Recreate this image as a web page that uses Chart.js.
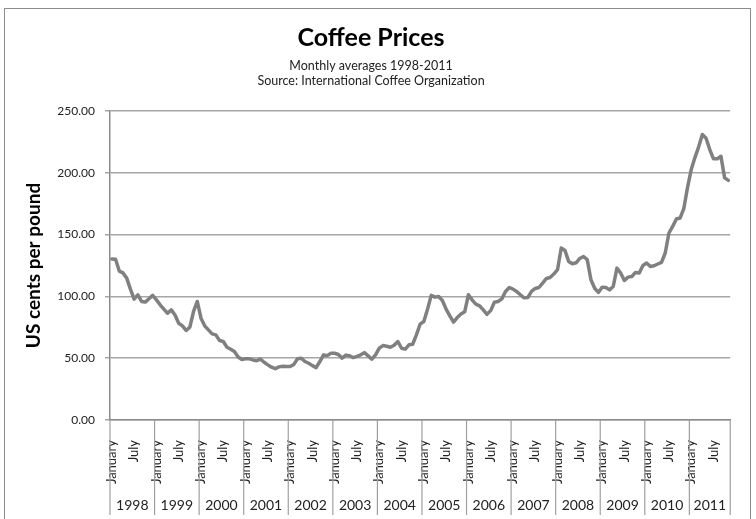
<!DOCTYPE html>
<html>
<head>
<meta charset="utf-8">
<title>Coffee Prices</title>
<script src="https://cdn.jsdelivr.net/npm/chart.js@4.4.1/dist/chart.umd.min.js"></script>
<style>
  html, body { margin: 0; padding: 0; background: #fff; }
  #wrap { width: 756px; height: 519px; }
</style>
</head>
<body>
<div id="wrap"><canvas id="coffee-chart" width="756" height="519"></canvas></div>
<script>
// data (US cents per pound, monthly averages)
const years = [1998, 1999, 2000, 2001, 2002, 2003, 2004, 2005, 2006, 2007, 2008, 2009, 2010, 2011];
const monthNames = ["January", "February", "March", "April", "May", "June",
  "July", "August", "September", "October", "November", "December"];
const shownMonths = ["January", "July"];
const yTicks = [0, 50, 100, 150, 200, 250];

const p1998 = [130.2, 130.0, 120.5, 119.0, 114.8, 105.9, 97.8, 101.3, 95.9, 95.4, 98.1, 100.8];
const p1999 = [97.2, 93.2, 89.7, 86.4, 89.1, 85.0, 78.3, 76.2, 72.4, 75.1, 87.8, 95.9];
const p2000 = [82.4, 76.2, 72.9, 69.7, 68.9, 64.3, 63.5, 58.9, 57.3, 55.4, 51.0, 49.0];
const p2001 = [49.5, 49.5, 48.6, 48.0, 49.2, 46.7, 44.6, 42.7, 41.5, 43.0, 43.5, 43.2];
const p2002 = [43.2, 45.0, 49.5, 50.0, 47.3, 45.9, 44.0, 42.4, 47.3, 52.7, 52.1, 54.0];
const p2003 = [54.0, 53.0, 50.0, 52.5, 52.0, 50.5, 51.5, 52.7, 54.5, 51.9, 49.2, 52.7];
const p2004 = [58.1, 60.2, 59.7, 58.9, 60.5, 63.5, 58.1, 57.3, 60.8, 61.3, 68.9, 77.5];
const p2005 = [79.7, 89.7, 100.8, 99.4, 99.9, 96.7, 89.7, 84.3, 79.2, 82.9, 85.7, 87.5];
const p2006 = [101.3, 97.2, 93.7, 92.4, 89.1, 85.5, 88.5, 95.3, 95.9, 98.0, 104.0, 107.2];
const p2007 = [105.9, 104.0, 101.3, 98.9, 99.1, 104.0, 106.4, 107.2, 110.8, 114.5, 115.3, 118.1];
const p2008 = [121.6, 139.1, 137.2, 128.3, 126.4, 127.2, 130.7, 132.3, 129.7, 113.5, 106.6, 103.2];
const p2009 = [107.5, 107.2, 105.3, 108.0, 122.9, 118.9, 112.9, 115.6, 116.1, 119.4, 118.9, 125.0];
const p2010 = [127.0, 124.2, 124.8, 126.2, 127.5, 135.1, 151.3, 156.6, 162.6, 163.4, 171.0, 188.0];
const p2011 = [202.6, 212.3, 221.0, 231.0, 228.0, 218.8, 211.3, 211.3, 213.4, 195.9, 193.9];

const pricesByYear = [p1998, p1999, p2000, p2001, p2002, p2003, p2004,
  p2005, p2006, p2007, p2008, p2009, p2010, p2011];
const prices = [].concat(...pricesByYear);
const labels = [].concat(...pricesByYear.map((arr) => arr.map((v, i) => monthNames[i])));

const FONT = "Lato, 'Open Sans', sans-serif";

// frame round the chart + the year row under the month labels
const yearAxis = {
  id: "yearAxis",
  beforeDraw(chart) {
    const ctx = chart.ctx;
    ctx.save();
    ctx.fillStyle = "#fff";
    ctx.fillRect(0, 0, chart.width, chart.height);
    ctx.strokeStyle = "#8c8c8c";
    ctx.lineWidth = 1;
    ctx.strokeRect(4.5, 8.5, 746, 530);
    ctx.restore();
  },
  afterDraw(chart) {
    const xs = chart.scales.x;
    const ctx = chart.ctx;
    const half = (xs.getPixelForValue(1) - xs.getPixelForValue(0)) / 2;
    const top = chart.chartArea.bottom;
    const bottom = chart.height - 4;
    ctx.save();
    ctx.strokeStyle = "#a0a0a0";
    ctx.lineWidth = 1.2;
    ctx.fillStyle = "#222";
    ctx.font = "14px " + FONT;
    ctx.textAlign = "center";
    ctx.textBaseline = "middle";
    let start = 0;
    years.forEach((yr, k) => {
      const n = pricesByYear[k].length;
      const x0 = xs.getPixelForValue(start) - half;
      const x1 = xs.getPixelForValue(start + n - 1) + half;
      ctx.beginPath();
      ctx.moveTo(x0, top);
      ctx.lineTo(x0, bottom);
      if (k === years.length - 1) {
        ctx.moveTo(x1, top);
        ctx.lineTo(x1, bottom);
      }
      ctx.stroke();
      ctx.fillText(String(yr), (x0 + x1) / 2, 505);
      start += n;
    });
    ctx.restore();
  },
};

new Chart("coffee-chart", {
  type: "line",
  data: {
    labels: labels,
    datasets: [
      {
        data: prices,
        borderColor: "#808080",
        borderWidth: 3.5,
        borderJoinStyle: "round",
        borderCapStyle: "round",
        pointRadius: 0,
        tension: 0,
        fill: false,
      },
    ],
  },
  options: {
    responsive: false,
    animation: false,
    devicePixelRatio: 1,
    layout: { padding: { left: 0, right: 14, top: 0, bottom: 0 } },
    plugins: {
      legend: { display: false },
      tooltip: { enabled: false },
      title: {
        display: true,
        text: "Coffee Prices",
        color: "#000",
        font: { family: FONT, size: 25, weight: "bold", lineHeight: 1.2 },
        padding: { top: 23, bottom: 0 },
      },
      subtitle: {
        display: true,
        text: ["Monthly averages 1998-2011", "Source: International Coffee Organization"],
        color: "#222",
        font: { family: FONT, size: 12.5, lineHeight: 1.2 },
        padding: { top: 5.5, bottom: 22.5 },
      },
    },
    scales: {
      x: {
        offset: true,
        grid: { display: false },
        border: { display: true, color: "#8c8c8c", width: 1.5 },
        ticks: {
          autoSkip: false,
          minRotation: 90,
          maxRotation: 90,
          padding: 12,
          color: "#222",
          font: { family: FONT, size: 13 },
          callback: (val, i) => (shownMonths.includes(labels[i]) ? labels[i] : ""),
        },
        afterFit: (scale) => {
          scale.height = 99;
        },
      },
      y: {
        min: yTicks[0],
        max: yTicks[yTicks.length - 1],
        afterBuildTicks: (scale) => {
          scale.ticks = yTicks.map((v) => ({ value: v }));
        },
        grid: { color: "#a6a6a6", lineWidth: 1.5, tickLength: 5 },
        border: { display: true, color: "#8c8c8c", width: 1.5 },
        ticks: {
          padding: 10,
          color: "#222",
          font: { family: FONT, size: 12 },
          callback: (v) => Number(v).toFixed(2),
        },
        title: {
          display: true,
          text: "US cents per pound",
          color: "#000",
          font: { family: FONT, size: 19, weight: "bold", lineHeight: 1.2 },
          padding: { top: 22, bottom: 0 },
        },
        afterFit: (scale) => {
          scale.width = 110;
        },
      },
    },
  },
  plugins: [yearAxis],
});
</script>
</body>
</html>
